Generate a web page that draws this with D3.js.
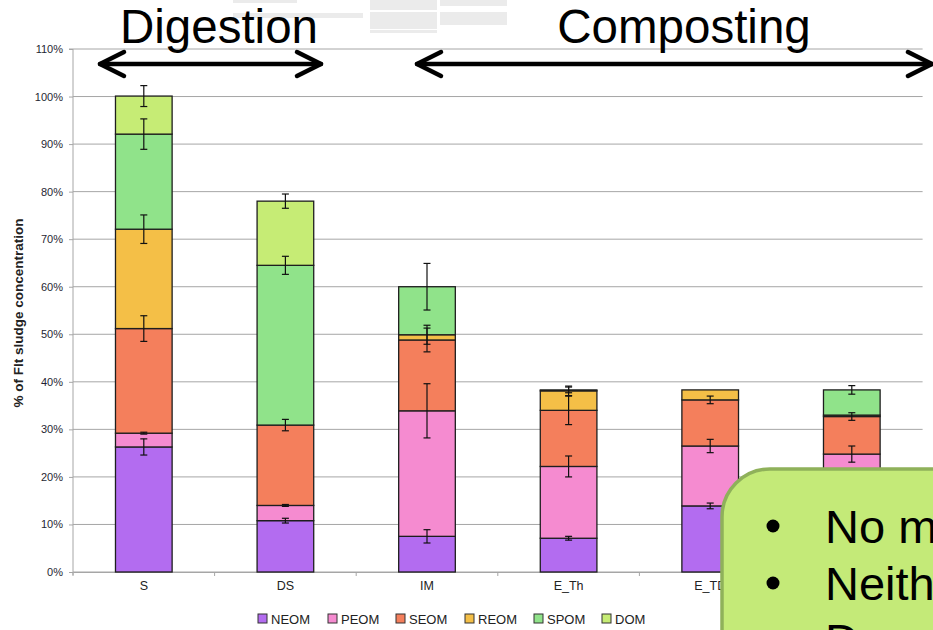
<!DOCTYPE html>
<html>
<head>
<meta charset="utf-8">
<script src="https://cdn.jsdelivr.net/npm/d3@7/dist/d3.min.js"></script>
<style>
  body { margin: 0; background: #fff; overflow: hidden; }
  svg { display: block; font-family: Arial, "Liberation Sans", sans-serif; }
</style>
</head>
<body>
<div class="chart-container"></div>
<script>
/********** the Data **********/
const categories = ["S", "DS", "IM", "E_Th", "E_TD", "E_ThD"];
const seriesNames = ["NEOM", "PEOM", "SEOM", "REOM", "SPOM", "DOM"];

// % of sludge concentration, one value per category
const NEOM = [26.3, 10.8, 7.5, 7.1, 13.9, 13.0];
const PEOM = [2.9, 3.2, 26.4, 15.1, 12.6, 11.8];
const SEOM = [22.0, 16.9, 14.9, 11.8, 9.7, 7.9];
const REOM = [20.9, 0, 1.1, 4.1, 2.1, 0.3];
const SPOM = [20.0, 33.6, 10.1, 0.2, 0, 5.3];
const DOM  = [8.0, 13.5, 0, 0, 0, 0];

// error bars (+/-), drawn at the top of each segment
const NEOM_err = [1.7, 0.5, 1.4, 0.4, 0.6, 0];
const PEOM_err = [0.2, 0.2, 5.7, 2.2, 1.4, 1.7];
const SEOM_err = [2.7, 1.2, 2.5, 3.0, 0.8, 0.8];
const REOM_err = [3.0, 0, 2.0, 1.0, 0, 0];
const SPOM_err = [3.2, 1.9, 4.9, 0.6, 0, 0.9];
const DOM_err  = [2.2, 1.5, 0, 0, 0, 0];

const yTicks = [0, 10, 20, 30, 40, 50, 60, 70, 80, 90, 100, 110];
const colors = ["#b36cf0", "#f58bd0", "#f47f5c", "#f4bf47", "#90e38a", "#c6ec75"];

const values = {NEOM, PEOM, SEOM, REOM, SPOM, DOM};
const errors = {NEOM: NEOM_err, PEOM: PEOM_err, SEOM: SEOM_err, REOM: REOM_err, SPOM: SPOM_err, DOM: DOM_err};

let tableData = categories.map((c, i) => {
  let row = {cat: c};
  seriesNames.forEach(s => { row[s] = values[s][i]; });
  return row;
});

/********** chart **********/
const width = 933, height = 630;
const plot = {left: 73, right: 922.6, top: 49, bottom: 572};

let svg = d3.select(".chart-container").append("svg")
  .attr("width", width).attr("height", height);

// faded table remnants at the top
const ghost = [
  [233, 0, 64, 3], [233, 13, 130, 5], [370, 0, 67, 10], [370, 12, 67, 17],
  [370, 30, 67, 3], [440, 0, 67, 6], [440, 12, 67, 13]
];
svg.selectAll(".ghost").data(ghost).enter().append("rect")
  .attr("x", d => d[0]).attr("y", d => d[1]).attr("width", d => d[2]).attr("height", d => d[3])
  .attr("fill", "#ebebeb");

let xScale = d3.scaleBand().domain(categories)
  .range([plot.left, plot.right]).paddingInner(0.6).paddingOuter(0.3);
let yScale = d3.scaleLinear().domain([0, 110]).range([plot.bottom, plot.top]);

// gridlines
svg.append("g").selectAll("line").data(yTicks).enter().append("line")
  .attr("x1", plot.left).attr("x2", plot.right)
  .attr("y1", d => yScale(d)).attr("y2", d => yScale(d))
  .attr("stroke", "#a6a6a6").attr("stroke-width", 1);

// y axis
let yAxis = d3.axisLeft(yScale).tickValues(yTicks).tickFormat(d => d + "%").tickSize(4).tickPadding(6);
let yG = svg.append("g").attr("transform", `translate(${plot.left},0)`).call(yAxis);
yG.select(".domain").attr("stroke", "#a6a6a6").attr("d", `M-4,${plot.top}H0V${plot.bottom + 3}`);
yG.selectAll(".tick line").attr("stroke", "#a6a6a6");
yG.selectAll("text").attr("font-size", 11).attr("fill", "#1f1f33").attr("font-family", "Arial, Liberation Sans");

// x axis
let xAxis = d3.axisBottom(xScale).tickSize(0).tickPadding(9);
let xG = svg.append("g").attr("transform", `translate(0,${plot.bottom})`).call(xAxis);
xG.select(".domain").attr("stroke", "#a6a6a6");
xG.selectAll("text").attr("font-size", 12.5).attr("fill", "#222").attr("font-family", "Arial, Liberation Sans");
// boundary ticks between categories
let bounds = categories.map(c => xScale(c) - xScale.step() * xScale.paddingInner() / 2).concat([plot.right]);
xG.selectAll(".btick").data(bounds).enter().append("line")
  .attr("x1", d => d).attr("x2", d => d).attr("y1", 0).attr("y2", 4)
  .attr("stroke", "#a6a6a6");

// y axis title
svg.append("text")
  .attr("transform", `translate(23,${313}) rotate(-90)`)
  .attr("text-anchor", "middle").attr("font-size", 13.5).attr("font-weight", "bold")
  .attr("fill", "#222").text("% of Flt sludge concentration");

// stacked bars
let stack = d3.stack().keys(seriesNames)(tableData);
let layers = svg.append("g").selectAll("g").data(stack).enter().append("g")
  .attr("fill", (d, i) => colors[i]);
layers.selectAll("rect").data(d => d.filter(p => p[1] - p[0] > 0)).enter().append("rect")
  .attr("x", d => xScale(d.data.cat))
  .attr("width", xScale.bandwidth())
  .attr("y", d => yScale(d[1]))
  .attr("height", d => yScale(d[0]) - yScale(d[1]))
  .attr("stroke", "#1e1e1e").attr("stroke-width", 1.3);

// error bars
let errData = [];
stack.forEach(layer => {
  layer.forEach((p, i) => {
    let e = errors[layer.key][i];
    if (p[1] - p[0] > 0 && e > 0) errData.push({cat: p.data.cat, top: p[1], err: e});
  });
});
let eg = svg.append("g").attr("stroke", "#111").attr("stroke-width", 1.2);
errData.forEach(d => {
  let cx = xScale(d.cat) + xScale.bandwidth() / 2;
  let y1 = yScale(d.top + d.err), y2 = yScale(d.top - d.err);
  eg.append("line").attr("x1", cx).attr("x2", cx).attr("y1", y1).attr("y2", y2);
  eg.append("line").attr("x1", cx - 3.5).attr("x2", cx + 3.5).attr("y1", y1).attr("y2", y1);
  eg.append("line").attr("x1", cx - 3.5).attr("x2", cx + 3.5).attr("y1", y2).attr("y2", y2);
});

// legend
let legendX = [258, 328, 396, 465, 534, 602];
let lg = svg.append("g").selectAll("g").data(seriesNames).enter().append("g")
  .attr("transform", (d, i) => `translate(${legendX[i]},619)`);
lg.append("rect").attr("x", 0).attr("y", -5).attr("width", 9).attr("height", 9)
  .attr("fill", (d, i) => colors[i]).attr("stroke", "#333").attr("stroke-width", 1);
lg.append("text").attr("x", 13).attr("y", 4.5).attr("font-size", 13).attr("fill", "#222").text(d => d);

// phase headers with double arrows
function doubleArrow(x1, x2, y) {
  let g = svg.append("g").attr("stroke", "#000").attr("stroke-width", 4.5)
    .attr("fill", "none").attr("stroke-linecap", "round").attr("stroke-linejoin", "round");
  g.append("line").attr("x1", x1 + 2).attr("x2", x2 - 2).attr("y1", y).attr("y2", y);
  g.append("path").attr("d", `M${x1 + 26},${y - 12}L${x1 + 2},${y}L${x1 + 26},${y + 12}`);
  g.append("path").attr("d", `M${x2 - 26},${y - 12}L${x2 - 2},${y}L${x2 - 26},${y + 12}`);
}
doubleArrow(98, 323, 64);
doubleArrow(415, 934, 64);

svg.append("text").attr("x", 219).attr("y", 43).attr("text-anchor", "middle")
  .attr("font-size", 47.5).attr("fill", "#000").text("Digestion");
svg.append("text").attr("x", 684).attr("y", 43).attr("text-anchor", "middle")
  .attr("font-size", 47.5).attr("fill", "#000").text("Composting");

// callout box
svg.append("rect").attr("x", 722).attr("y", 469).attr("width", 260).attr("height", 220)
  .attr("rx", 48).attr("ry", 48)
  .attr("fill", "#c4ea78").attr("stroke", "#8fb15a").attr("stroke-width", 3.5);
const bullets = ["No major change", "Neither", "Decrease"];
let bg = svg.append("g").selectAll("g").data(bullets).enter().append("g")
  .attr("transform", (d, i) => `translate(0,${543 + i * 57})`);
bg.append("circle").attr("cx", 773).attr("cy", -17).attr("r", 6.5).attr("fill", "#000");
bg.append("text").attr("x", 825).attr("y", 0).attr("font-size", 47).attr("fill", "#000").text(d => d);
</script>
</body>
</html>
